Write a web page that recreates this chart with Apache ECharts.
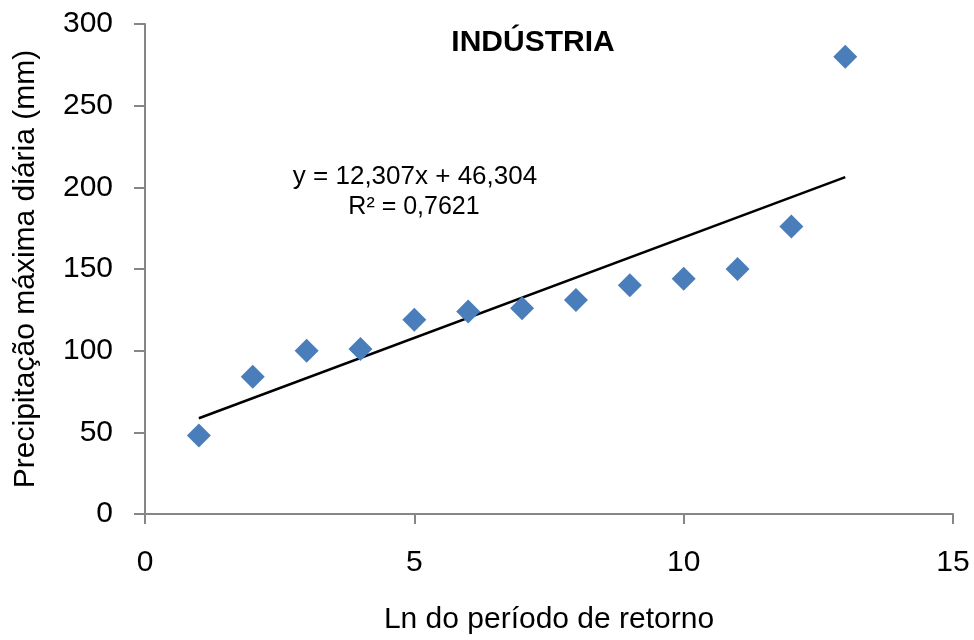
<!DOCTYPE html>
<html>
<head>
<meta charset="utf-8">
<script src="https://cdn.jsdelivr.net/npm/echarts@6/dist/echarts.min.js"></script>
<style>
  html, body { margin: 0; padding: 0; background: #fff; }
  #chart { width: 974px; height: 640px; }
</style>
</head>
<body>
<div id="chart"></div>
<script>
// Ln of return period vs. maximum daily precipitation (mm)
const lnPeriod = [1, 2, 3, 4, 5, 6, 7, 8, 9, 10, 11, 12, 13];
const precipitation = [48, 84, 100, 101, 119, 124, 126, 131, 140, 144, 150, 176, 280];

// Linear trend as reported: y = 12,307x + 46,304 ; R² = 0,7621
const trendSlope = 12.307;
const trendIntercept = 46.304;
const trendEquation = 'y = 12,307x + 46,304';
const trendR2 = 'R² = 0,7621';

const xTicks = [0, 5, 10, 15];
const yTicks = [0, 50, 100, 150, 200, 250, 300];

const FONT = '"Liberation Sans", Arial, sans-serif';
const AXIS_GREY = '#868686';

const points = lnPeriod.map((x, i) => [x, precipitation[i]]);
const xMin = Math.min(...lnPeriod), xMax = Math.max(...lnPeriod);
const trendLine = [
  [xMin, trendSlope * xMin + trendIntercept],
  [xMax, trendSlope * xMax + trendIntercept]
];

function label(text, x, y, size, weight) {
  return {
    type: 'text', x: x, y: y, z: 10,
    style: {
      text: text, fill: '#000',
      font: (weight || 'normal') + ' ' + size + 'px ' + FONT,
      align: 'center', verticalAlign: 'middle'
    }
  };
}

const chart = echarts.init(document.getElementById('chart'));
chart.setOption({
  backgroundColor: '#ffffff',
  animation: false,
  textStyle: { fontFamily: FONT },
  graphic: [
    label('INDÚSTRIA', 533, 43, 30, 'bold'),
    label(trendEquation, 415, 177, 26),
    label(trendR2, 414, 207, 25)
  ],
  grid: { left: 145, right: 21, top: 24, bottom: 123, containLabel: false },
  xAxis: {
    type: 'value',
    min: xTicks[0], max: xTicks[xTicks.length - 1], interval: 5,
    name: 'Ln do período de retorno',
    nameLocation: 'middle', nameGap: 91,
    nameTextStyle: { fontFamily: FONT, fontSize: 30, color: '#000' },
    axisLine: { show: true, lineStyle: { color: AXIS_GREY, width: 2 } },
    axisTick: { show: true, length: 10, inside: false, lineStyle: { color: AXIS_GREY, width: 2 } },
    axisLabel: { fontFamily: FONT, fontSize: 30, color: '#000', margin: 34 },
    splitLine: { show: false }
  },
  yAxis: {
    type: 'value',
    min: yTicks[0], max: yTicks[yTicks.length - 1], interval: 50,
    name: 'Precipitação máxima diária (mm)',
    nameLocation: 'middle', nameGap: 104, nameRotate: 90,
    nameTextStyle: { fontFamily: FONT, fontSize: 30, color: '#000' },
    axisLine: { show: true, lineStyle: { color: AXIS_GREY, width: 2 } },
    axisTick: { show: true, length: 11, inside: false, lineStyle: { color: AXIS_GREY, width: 2 } },
    axisLabel: { fontFamily: FONT, fontSize: 30, color: '#000', margin: 32 },
    splitLine: { show: false }
  },
  series: [
    {
      type: 'line',
      data: trendLine,
      symbol: 'none',
      lineStyle: { color: '#000', width: 2.5 },
      z: 2
    },
    {
      type: 'scatter',
      data: points,
      symbol: 'diamond',
      symbolSize: [24, 24],
      itemStyle: { color: '#4A7EBB', opacity: 1 },
      z: 3
    }
  ]
});
</script>
</body>
</html>
